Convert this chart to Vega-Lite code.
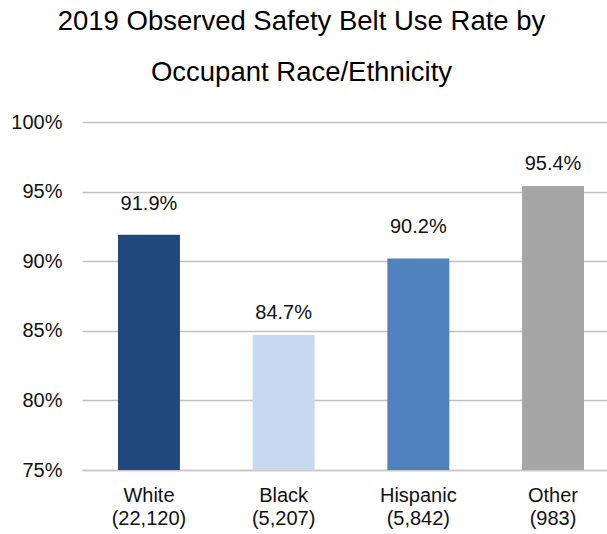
{
  "$schema": "https://vega.github.io/schema/vega-lite/v6.json",
  "width": 525,
  "height": 348,
  "autosize": {"type": "none"},
  "padding": {"left": 82, "top": 122, "right": 0, "bottom": 64},
  "background": "white",
  "title": {
    "text": ["2019 Observed Safety Belt Use Rate by", "Occupant Race/Ethnicity"],
    "font": "Liberation Sans",
    "fontSize": 27.5,
    "fontWeight": "normal",
    "color": "black",
    "lineHeight": 51,
    "anchor": "middle",
    "frame": "group",
    "dx": -43,
    "offset": 26
  },
  "data": {
    "values": [
      {"group": "White", "n": "(22,120)", "rate": 0.919, "pos": "high"},
      {"group": "Black", "n": "(5,207)", "rate": 0.847, "pos": "low"},
      {"group": "Hispanic", "n": "(5,842)", "rate": 0.902, "pos": "high"},
      {"group": "Other", "n": "(983)", "rate": 0.954, "pos": "low"}
    ]
  },
  "encoding": {
    "x": {
      "field": "group",
      "type": "nominal",
      "sort": null,
      "title": null,
      "scale": {"paddingInner": 0.54, "paddingOuter": 0.219, "align": 0.61},
      "axis": {
        "labelExpr": "datum.value == 'White' ? ['White', '(22,120)'] : datum.value == 'Black' ? ['Black', '(5,207)'] : datum.value == 'Hispanic' ? ['Hispanic', '(5,842)'] : ['Other', '(983)']",
        "labelAngle": 0,
        "labelFont": "Liberation Sans",
        "labelFontSize": 20,
        "labelColor": "#111",
        "labelLineHeight": 23,
        "labelPadding": 15,
        "ticks": false,
        "domainColor": "#c8c8c8",
        "domainWidth": 1.5,
        "grid": false
      }
    }
  },
  "layer": [
    {
      "mark": {"type": "bar"},
      "encoding": {
        "y": {
          "field": "rate",
          "type": "quantitative",
          "title": null,
          "scale": {"domain": [0.75, 1.0], "zero": false, "nice": false},
          "axis": {
            "values": [0.75, 0.8, 0.85, 0.9, 0.95, 1.0],
            "format": ".0%",
            "labelFont": "Liberation Sans",
            "labelFontSize": 20,
            "labelColor": "#111",
            "labelPadding": 20,
            "ticks": false,
            "domain": false,
            "gridColor": "#c0c0c0",
            "gridWidth": 1.3
          }
        },
        "y2": {"datum": 0.75},
        "color": {
          "field": "group",
          "type": "nominal",
          "legend": null,
          "scale": {
            "domain": ["White", "Black", "Hispanic", "Other"],
            "range": ["#1F497D", "#C6D9F1", "#4F81BD", "#A6A6A6"]
          }
        }
      }
    },
    {
      "transform": [{"filter": "datum.pos == 'high'"}],
      "mark": {"type": "text", "font": "Liberation Sans", "fontSize": 20, "baseline": "alphabetic", "dy": -25, "color": "#111"},
      "encoding": {"y": {"field": "rate", "type": "quantitative"}, "text": {"field": "rate", "type": "quantitative", "format": ".1%"}}
    },
    {
      "transform": [{"filter": "datum.pos == 'low'"}],
      "mark": {"type": "text", "font": "Liberation Sans", "fontSize": 20, "baseline": "alphabetic", "dy": -16, "color": "#111"},
      "encoding": {"y": {"field": "rate", "type": "quantitative"}, "text": {"field": "rate", "type": "quantitative", "format": ".1%"}}
    }
  ],
  "config": {"view": {"stroke": null}}
}
